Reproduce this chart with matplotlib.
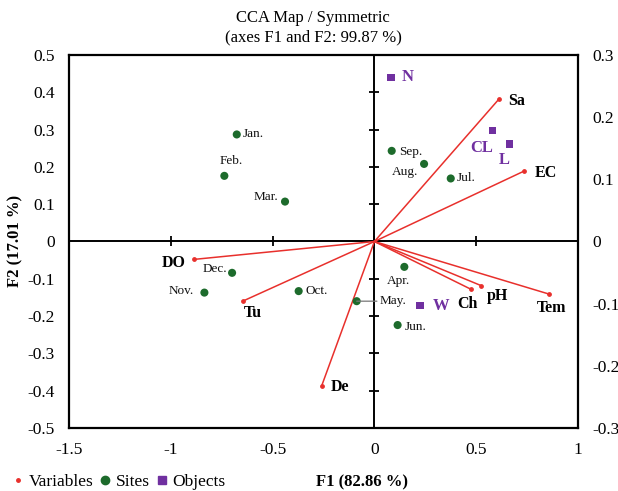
import matplotlib
matplotlib.use("Agg")
import matplotlib.pyplot as plt
import numpy as np
from matplotlib.lines import Line2D

plt.rcParams['font.family'] = ['Liberation Serif', 'DejaVu Serif']
plt.rcParams['axes.unicode_minus'] = False

# ---- data ----
site_names = ["Jan.", "Feb.", "Mar.", "Sep.", "Aug.", "Jul.", "Dec.", "Nov.", "Oct.", "May.", "Apr.", "Jun."]
site_x = [-0.676, -0.737, -0.439, 0.085, 0.244, 0.375, -0.699, -0.835, -0.372, -0.087, 0.147, 0.114]
site_y = [0.287, 0.176, 0.107, 0.243, 0.208, 0.169, -0.084, -0.137, -0.133, -0.160, -0.068, -0.224]

obj_names = ["N", "CL", "L", "W"]
obj_x = [0.082, 0.579, 0.665, 0.224]
obj_y = [0.440, 0.297, 0.261, -0.171]

var_names = ["Sa", "EC", "DO", "Tu", "De", "Ch", "pH", "Tem"]
var_x = [0.612, 0.736, -0.886, -0.647, -0.259, 0.474, 0.523, 0.858]
var_y = [0.382, 0.189, -0.048, -0.160, -0.387, -0.128, -0.118, -0.141]

x_ticks = [-1.5, -1, -0.5, 0, 0.5, 1]
y_ticks = [-0.5, -0.4, -0.3, -0.2, -0.1, 0, 0.1, 0.2, 0.3, 0.4, 0.5]
y2_ticks = [-0.3, -0.2, -0.1, 0, 0.1, 0.2, 0.3]

# label placement (offset pixels, alignment)
site_lab = {"Jan.": (6, 0, 'left'), "Feb.": (7, 15, 'center'), "Mar.": (-7, 5, 'right'),
            "Sep.": (7, -1, 'left'), "Aug.": (-19, -8, 'center'), "Jul.": (6, 0, 'left'),
            "Dec.": (-5, 4, 'right'), "Nov.": (-11, 2, 'right'), "Oct.": (7, 0, 'left'),
            "May.": (23, 0, 'left'), "Apr.": (-6, -14, 'center'), "Jun.": (7, -2, 'left')}
var_lab = {"Sa": (9, -2, 'left'), "EC": (10, -2, 'left'), "DO": (-8, -4, 'right'),
           "Tu": (1, -12, 'left'), "De": (9, -1, 'left'), "Ch": (-3, -15, 'center'),
           "pH": (17, -10, 'center'), "Tem": (2, -14, 'center')}
obj_lab = {"N": (11, 0, 'left'), "CL": (-11, -17, 'center'), "L": (-6, -16, 'center'),
           "W": (13, -1, 'left')}

GREEN = '#1d6b2c'
PURPLE = '#7030a0'
RED = '#e8302c'

fmt = matplotlib.ticker.FuncFormatter(lambda v, p: f"{v:g}")

fig = plt.figure(figsize=(6.18, 4.91), dpi=100)
pos = [69/618, 1-428/491, (578-69)/618, (428-55)/491]
ax = fig.add_axes(pos)
ax.set_xlim(-1.5, 1)
ax.set_ylim(-0.5, 0.5)
ax.set_xticks(x_ticks)
ax.set_yticks(y_ticks)
ax.xaxis.set_major_formatter(fmt)
ax.yaxis.set_major_formatter(fmt)
ax.tick_params(axis='both', length=0, labelsize=12.5)
ax.tick_params(axis='y', pad=10)
ax.tick_params(axis='x', pad=10)
for s in ax.spines.values():
    s.set_linewidth(1.6)

# secondary right axis
ax2 = ax.twinx()
ax2.set_ylim(-0.3, 0.3)
ax2.set_yticks(y2_ticks)
ax2.yaxis.set_major_formatter(fmt)
ax2.tick_params(axis='y', length=0, labelsize=12.5, pad=10)
for s in ax2.spines.values():
    s.set_visible(False)

# inner cross axes with ticks
axc = fig.add_axes(pos)
axc.set_xlim(-1.5, 1)
axc.set_ylim(-0.5, 0.5)
axc.patch.set_visible(False)
axc.spines['top'].set_visible(False)
axc.spines['right'].set_visible(False)
axc.spines['left'].set_position(('data', 0))
axc.spines['bottom'].set_position(('data', 0))
axc.spines['left'].set_linewidth(1.4)
axc.spines['bottom'].set_linewidth(1.4)
axc.set_xticks(x_ticks)
axc.set_yticks(y_ticks)
axc.tick_params(axis='both', direction='inout', length=7, width=1.3,
                labelleft=False, labelbottom=False)

# variables
for n, x, y in zip(var_names, var_x, var_y):
    axc.plot([0, x], [0, y], color=RED, lw=1.1, zorder=3)
axc.scatter(var_x, var_y, s=6, color=RED, zorder=4)
for n, x, y in zip(var_names, var_x, var_y):
    dx, dy, ha = var_lab[n]
    axc.annotate(n, (x, y), xytext=(dx, dy), textcoords='offset pixels', ha=ha, va='center',
                 fontsize=11.5, fontweight='bold', color='black', zorder=6)

# sites
axc.scatter(site_x, site_y, s=34, color=GREEN, zorder=5, edgecolors='none')
for n, x, y in zip(site_names, site_x, site_y):
    dx, dy, ha = site_lab[n]
    kw = {}
    if n == "May.":
        kw['arrowprops'] = dict(arrowstyle='-', color='#777777', lw=0.9, shrinkA=0, shrinkB=0)
    axc.annotate(n, (x, y), xytext=(dx, dy), textcoords='offset pixels', ha=ha, va='center',
                 fontsize=9.5, color='#111111', zorder=6, **kw)

# objects
axc.scatter(obj_x, obj_y, s=28, marker='s', color=PURPLE, zorder=5, edgecolors='none')
for n, x, y in zip(obj_names, obj_x, obj_y):
    dx, dy, ha = obj_lab[n]
    axc.annotate(n, (x, y), xytext=(dx, dy), textcoords='offset pixels', ha=ha, va='center',
                 fontsize=12, fontweight='bold', color=PURPLE, zorder=6)

# title and axis labels
fig.text(313/618, 1-18/491, "CCA Map / Symmetric", ha='center', va='center', fontsize=12)
fig.text(313/618, 1-37/491, "(axes F1 and F2: 99.87 %)", ha='center', va='center', fontsize=12)
fig.text(362/618, 1-482/491, "F1 (82.86 %)", ha='center', va='center', fontsize=12, fontweight='bold')
fig.text(15/618, 1-241/491, "F2 (17.01 %)", ha='center', va='center', fontsize=12,
         fontweight='bold', rotation=90)

# legend
handles = [Line2D([], [], ls='none', marker='o', ms=2.5, color=RED),
           Line2D([], [], ls='none', marker='o', ms=6, color=GREEN),
           Line2D([], [], ls='none', marker='s', ms=5.5, color=PURPLE)]
fig.legend(handles, ["Variables", "Sites", "Objects"], loc='center left',
           bbox_to_anchor=(6/618, 1-482/491), ncol=3, frameon=False, fontsize=12.5,
           handlelength=0.6, handletextpad=0.3, columnspacing=0.4, borderaxespad=0)

fig.savefig("out.png", dpi=100)
